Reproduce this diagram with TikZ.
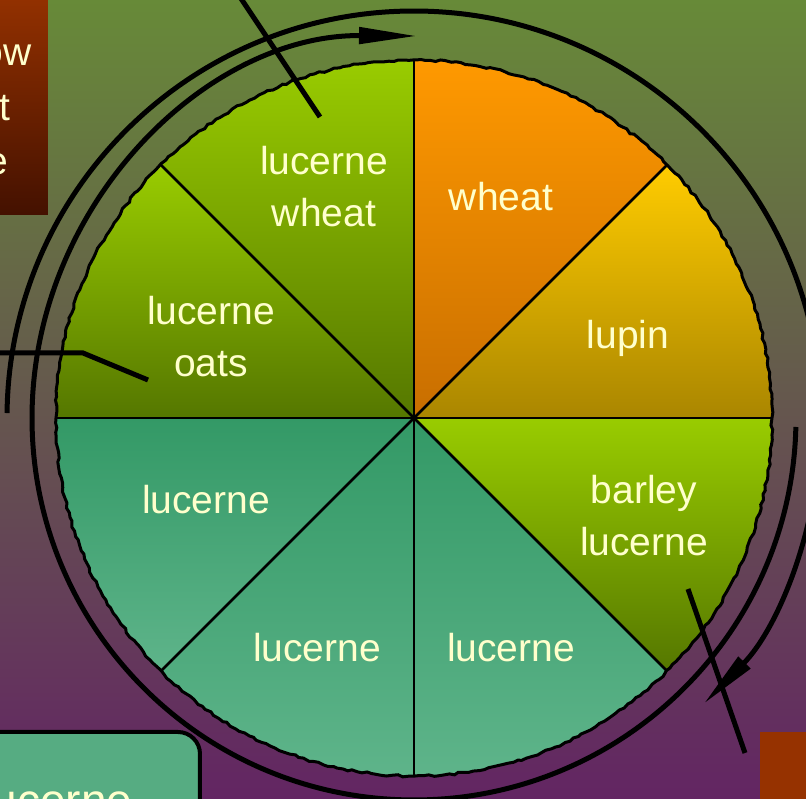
\documentclass[tikz,border=0pt]{standalone}
\usepackage{fontspec}
\setmainfont{Liberation Sans}
\usetikzlibrary{arrows.meta,decorations.pathmorphing,positioning}
\definecolor{bgtop}{HTML}{678A38}
\definecolor{bgbot}{HTML}{632563}
\definecolor{cream}{HTML}{FFFFCC}
\definecolor{rusttop}{HTML}{963200}
\definecolor{rustbot}{HTML}{441100}
\definecolor{wheattop}{HTML}{FF9900}
\definecolor{wheatbot}{HTML}{C86E00}
\definecolor{lupintop}{HTML}{FFCC00}
\definecolor{lupinbot}{HTML}{AA8600}
\definecolor{leaftop}{HTML}{99CC00}
\definecolor{leafbot}{HTML}{557700}
\definecolor{tealtop}{HTML}{339966}
\definecolor{tealbot}{HTML}{5EB48A}
\definecolor{tealbox}{HTML}{56AC82}

\begin{document}
\begin{tikzpicture}[x=1pt,y=1pt,
    >={Triangle[length=58pt,width=16pt]},
    crop/.style={text=cream,font=\fontsize{39}{52}\selectfont,align=center},
    pointer/.style={line width=5pt},
    cycle/.style={line width=5pt,->},
    rim/.style={line width=3pt,decorate,
      decoration={random steps,segment length=5pt,amplitude=1.1pt}}]
  \clip (-414,-381) rectangle (392,418);
  \shade[top color=bgtop,bottom color=bgbot] (-414,-381) rectangle (392,418);

  % side boxes
  \shade[top color=rusttop,bottom color=rustbot] (-480,430) rectangle (-366,203);
  \node[crop,anchor=base east] (boxa) at (-379,352) {ow};
  \node[crop,anchor=base east] (boxb) at (-400,297) {at};
  \node[crop,anchor=base east] (boxc) at (-402,243) {e};
  \draw[line width=4pt,fill=tealbox,rounded corners=22pt]
    (-480,-314) rectangle (-214,-460);
  \node[crop,font=\fontsize{46}{55}\selectfont,anchor=base east]
    (boxd) at (-278,-399) {ucerne};
  \fill[rusttop] (346,-314) rectangle (420,-420);

  % wheel
  \foreach \a/\top/\bot in {45/wheattop/wheatbot,0/lupintop/lupinbot,
      -45/leaftop/leafbot,-90/tealtop/tealbot,-135/tealtop/tealbot,
      180/tealtop/tealbot,135/leaftop/leafbot,90/leaftop/leafbot}
    \shade[top color=\top,bottom color=\bot]
      (0,0) -- (\a:358) arc[start angle=\a,delta angle=45,radius=358] -- cycle;
  \foreach \a in {0,45,...,315}
    \draw[line width=2.5pt] (0,0) -- (\a:358);
  \draw[rim] (0,0) circle[radius=358];

  \node[crop] (lucwheat) at (-90,231) {lucerne\\wheat};
  \node[crop] (wheat) at (87,221) {wheat};
  \node[crop] (lupin) at (214,80) {lupin};
  \node[crop] (barley) at (230,-98) {barley\\lucerne};
  \node[crop] (lucse) at (97,-230) {lucerne};
  \node[crop] (lucsw) at (-97,-230) {lucerne};
  \node[crop] (lucw) at (-208,-82) {lucerne};
  \node[crop] (lucoats) at (-203,81) {lucerne\\oats};

  % cycle arrows
  \draw[cycle] (179.3:407) arc[start angle=179.3,end angle=-44.6,radius=407];
  \draw[cycle] (-1.35:382) arc[start angle=-1.35,end angle=-270.45,radius=382];

  % pointers
  \coordinate (pa) at (-182,433);
  \coordinate (pa') at (-94,301);
  \coordinate (pb) at (-424,65);
  \coordinate (pb') at (-331,65);
  \coordinate (pb'') at (-266,38);
  \coordinate (pc) at (274,-171);
  \coordinate (pc') at (331,-335);
  \draw[pointer] (pa)--(pa');
  \draw[pointer] (pb)--(pb')--(pb'');
  \draw[pointer] (pc)--(pc');
\end{tikzpicture}
\end{document}
